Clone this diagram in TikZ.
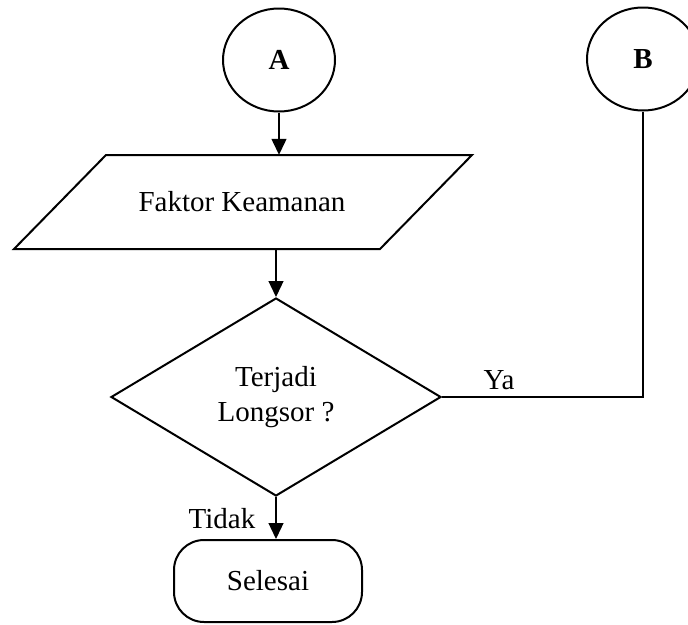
\documentclass[tikz,border=0pt]{standalone}
\usepackage{fontspec}
\setmainfont{Liberation Serif}
\usetikzlibrary{arrows.meta,shapes.geometric}
\begin{document}
\begin{tikzpicture}[x=1pt,y=-1pt,
  shapeline/.style={draw=black,line width=2pt},
  conn/.style={draw=black,line width=1.3pt},
  arr/.style={conn,-{Triangle[length=16pt,width=15pt]}},
  connector/.style={shapeline,ellipse,minimum width=112pt,minimum height=103pt,inner sep=0pt,font=\fontsize{29}{35}\selectfont\bfseries},
  lbl/.style={font=\fontsize{29}{35}\selectfont,inner sep=0pt}
]
\useasboundingbox (0,0) rectangle (688,624);
\clip (0,0) rectangle (688,624);
\node[connector] (A) at (279,60) {A};
\node[connector] (B) at (643,59) {B};
% parallelogram
\draw[shapeline] (106,155) -- (472,155) -- (380,249) -- (14,249) -- cycle;
\node[lbl,minimum width=274pt,minimum height=94pt] (fk) at (242,202) {Faktor Keamanan};
% decision
\node[shapeline,diamond,aspect=1.667,minimum width=330pt,minimum height=198pt,inner sep=0pt,align=center,font=\fontsize{29}{35}\selectfont] (D) at (276,397) {Terjadi\\Longsor ?};
% terminator
\node[shapeline,rectangle,rounded corners=30pt,minimum width=188pt,minimum height=82pt,inner sep=0pt,font=\fontsize{29}{35}\selectfont] (S) at (268,581) {Selesai};
% connectors
\draw[arr] (A.south) -- (A.south |- fk.north);
\draw[arr] (fk.south -| D.north) -- (D.north);
\draw[arr] (D.south) -- (D.south |- S.north);
\draw[shapeline] (D.east) -- (B.south |- D.east) -- (B.south);
\node[lbl] (ya) at (499,380) {Ya};
\node[lbl] (tidak) at (222,519) {Tidak};
\end{tikzpicture}
\end{document}
